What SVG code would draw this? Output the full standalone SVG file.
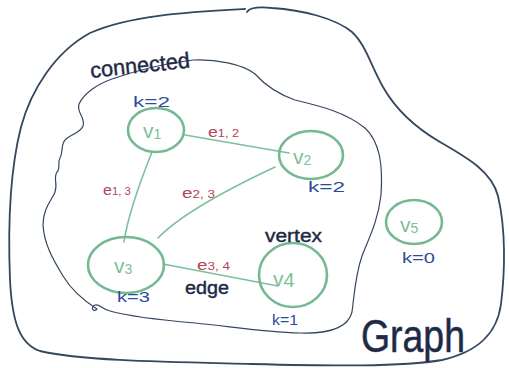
<svg xmlns="http://www.w3.org/2000/svg" width="509" height="368" viewBox="0 0 509 368">
  <style>
    .region { fill: none; stroke: #34475e; stroke-linecap: round; stroke-linejoin: round; }
    .vertex { fill: none; stroke: #74b992; stroke-width: 2.6; }
    .edge { fill: none; stroke: #7cc09c; stroke-width: 1.6; stroke-linecap: round; }
    .vlabel { font-family: "Liberation Sans", Arial, sans-serif; font-size: 21px; fill: #7cbf98; }
    .sub { font-size: 14px; }
    .deg { font-family: "Liberation Sans", Arial, sans-serif; font-size: 15px; fill: #2a4c9a; }
    .elabel { font-family: "Liberation Sans", Arial, sans-serif; font-size: 14px; fill: #b04658; }
    .note { font-family: "Liberation Sans", Arial, sans-serif; fill: #1e2845; }
  </style>

  <!-- outer region: the whole graph -->
  <g id="graph-region">
    <path class="region" stroke-width="1.8" d="M247,12 C250,7 262,7 272,8 C302,10 335,18 352,32 C366,45 371,66 383,87 C396,110 416,128 440,142 C468,158 492,172 498,196 C506,230 505,272 501,304 C497,334 478,352 442,360 C402,367 330,366 252,364 C172,362 82,361 40,351 C19,344 12,320 10,280 C8,230 10,170 21,127 C31,90 55,52 90,33 C130,15 190,12 245,9"/>
    <text class="note" x="361" y="352" font-size="46" fill="#2c3d55" stroke="#2c3d55" stroke-width="0.6" textLength="104" lengthAdjust="spacingAndGlyphs">Graph</text>
  </g>

  <!-- inner region: the connected component -->
  <g id="connected-region">
    <path class="region" stroke-width="1.2" d="M193,60 C215,59 243,64 255,74 C264,84 278,94 295,100 C320,106 345,112 365,128 C380,142 383,165 381,195 C378,222 368,240 362,256 C355,276 354,298 352,312 C348,328 330,334 300,333 C262,332 228,326 195,323 C160,320 128,316 110,311 C102,309 100,304 95,305 C90,307 93,313 97,309 C86,302 72,291 63,276 C52,258 44,243 43,225 C43,208 52,200 55,192 C58,184 53,178 57,172 C61,168 57,163 60,158 C64,150 60,144 66,139 C72,134 80,133 83,126 C86,118 76,112 79,104 C84,93 98,84 112,79 C132,72 160,64 193,60"/>
    <text class="note" x="91" y="78" font-size="22" stroke="#1e2845" stroke-width="0.4" transform="rotate(-6 91 78)" textLength="100" lengthAdjust="spacingAndGlyphs">connected</text>
  </g>

  <!-- connectors -->
  <g id="edges">
    <path class="edge" d="M185,135 L289,153"/>
    <path class="edge" d="M152,152 C140,182 128,214 124,242"/>
    <path class="edge" d="M275,167 C226,190 181,214 158,238"/>
    <path class="edge" d="M163,264 L278,286"/>
    <text class="elabel" x="208" y="137" textLength="31" lengthAdjust="spacingAndGlyphs">e<tspan font-size="10">1, 2</tspan></text>
    <text class="elabel" x="103" y="195" textLength="28" lengthAdjust="spacingAndGlyphs">e<tspan font-size="10">1, 3</tspan></text>
    <text class="elabel" x="182" y="198" textLength="33" lengthAdjust="spacingAndGlyphs">e<tspan font-size="10">2, 3</tspan></text>
    <text class="elabel" x="197" y="270" textLength="33" lengthAdjust="spacingAndGlyphs">e<tspan font-size="10">3, 4</tspan></text>
    <text class="note" x="185" y="294" font-size="18" stroke="#1e2845" stroke-width="0.4" textLength="44" lengthAdjust="spacingAndGlyphs">edge</text>
  </g>

  <g id="v1">
    <ellipse class="vertex" cx="156" cy="130" rx="28" ry="22"/>
    <text class="vlabel" x="143" y="138">v<tspan class="sub" dy="1">1</tspan></text>
    <text class="deg" x="133" y="107" textLength="37" lengthAdjust="spacingAndGlyphs">k=2</text>
  </g>

  <g id="v2">
    <ellipse class="vertex" cx="311" cy="155" rx="32" ry="24"/>
    <text class="vlabel" x="293" y="164">v<tspan class="sub" dy="1">2</tspan></text>
    <text class="deg" x="308" y="192" textLength="37" lengthAdjust="spacingAndGlyphs">k=2</text>
  </g>

  <g id="v3">
    <ellipse class="vertex" cx="126" cy="265" rx="38" ry="28"/>
    <text class="vlabel" x="114" y="273">v<tspan class="sub" dy="1">3</tspan></text>
    <text class="deg" x="117" y="302" textLength="33" lengthAdjust="spacingAndGlyphs">k=3</text>
  </g>

  <g id="v4">
    <ellipse class="vertex" cx="293" cy="275" rx="34" ry="32"/>
    <text class="vlabel" x="273" y="286" font-size="23">v<tspan font-size="20" dy="1">4</tspan></text>
    <text class="deg" x="272" y="325" textLength="26" lengthAdjust="spacingAndGlyphs">k=1</text>
    <text class="note" x="265" y="242" font-size="18" stroke="#1e2845" stroke-width="0.4" textLength="57" lengthAdjust="spacingAndGlyphs">vertex</text>
  </g>

  <g id="v5">
    <ellipse class="vertex" cx="414" cy="222" rx="28" ry="22"/>
    <text class="vlabel" x="400" y="232">v<tspan class="sub" dy="1">5</tspan></text>
    <text class="deg" x="402" y="263" textLength="33" lengthAdjust="spacingAndGlyphs">k=0</text>
  </g>
</svg>
